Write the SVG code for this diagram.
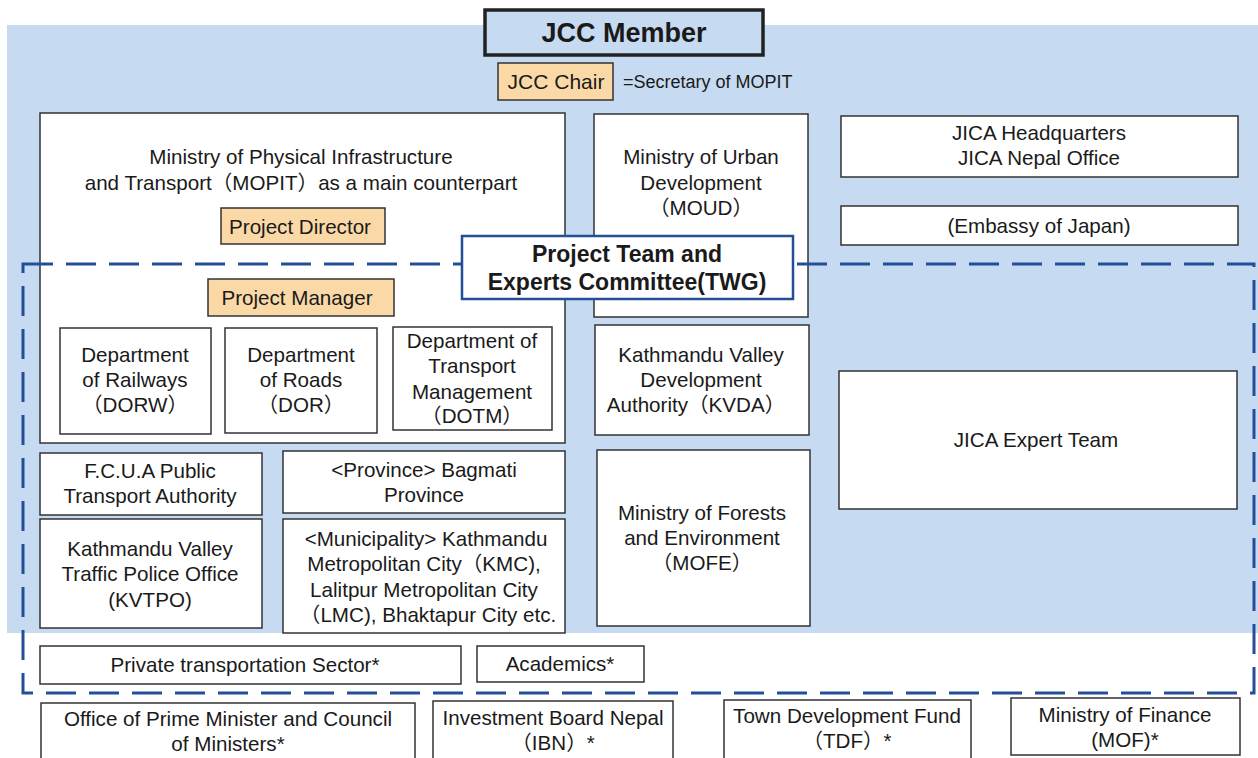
<svg xmlns="http://www.w3.org/2000/svg" width="1258" height="758" viewBox="0 0 1258 758">
  <defs>
    <style>
      text { font-family: "Liberation Sans", Arial, "Noto Sans CJK JP", sans-serif; fill: #1a1a1a; text-anchor: middle; }
      .t { font-size: 20.6px; }
      .box { fill: #ffffff; stroke: #333333; stroke-width: 1.5; }
      .role { fill: #fad9a7; stroke: #333333; stroke-width: 1.5; }
      .bold { font-weight: bold; }
    </style>
  </defs>

  <!-- page background -->
  <rect x="0" y="0" width="1258" height="758" fill="#ffffff"/>
  <!-- JCC member area -->
  <rect x="7" y="25" width="1251" height="608" fill="#c6dbf1"/>

  <!-- title -->
  <g id="jcc-member">
    <rect x="485" y="10" width="278" height="45" fill="#c6dbf1" stroke="#222222" stroke-width="3.5"/>
    <text x="624" y="42" class="bold" style="font-size:27px">JCC Member</text>
  </g>

  <g id="jcc-chair">
    <rect x="498" y="63" width="115" height="37" class="role"/>
    <text x="556" y="89" style="font-size:21px">JCC Chair</text>
    <text x="623" y="88" style="font-size:18px; text-anchor:start">=Secretary of MOPIT</text>
  </g>

  <!-- ministries and offices -->
  <g id="mopit">
    <rect x="40" y="113" width="525" height="330" class="box"/>
    <text x="301" y="164" class="t">Ministry of Physical Infrastructure</text>
    <text x="301" y="190" class="t">and Transport（MOPIT）as a main counterpart</text>
  </g>
  <g id="project-director">
    <rect x="221" y="208" width="164" height="36" class="role"/>
    <text x="300" y="234" class="t">Project Director</text>
  </g>

  <g id="moud">
    <rect x="594" y="114" width="214" height="203" class="box"/>
    <text x="701" y="164" class="t">Ministry of Urban</text>
    <text x="701" y="190" class="t">Development</text>
    <text x="701" y="215" class="t">（MOUD）</text>
  </g>

  <g id="jica-hq">
    <rect x="841" y="116" width="397" height="61" class="box"/>
    <text x="1039" y="140" class="t">JICA Headquarters</text>
    <text x="1039" y="165" class="t">JICA Nepal Office</text>
  </g>

  <g id="embassy">
    <rect x="841" y="206" width="397" height="39" class="box"/>
    <text x="1039" y="233" class="t">(Embassy of Japan)</text>
  </g>

  <g id="project-manager">
    <rect x="208" y="279" width="186" height="37" class="role"/>
    <text x="297" y="305" class="t">Project Manager</text>
  </g>

  <g id="dorw">
    <rect x="60" y="328" width="151" height="106" class="box"/>
    <text x="135" y="362" class="t">Department</text>
    <text x="135" y="387" class="t">of Railways</text>
    <text x="135" y="412" class="t">（DORW）</text>
  </g>
  <g id="dor">
    <rect x="225" y="328" width="152" height="105" class="box"/>
    <text x="301" y="362" class="t">Department</text>
    <text x="301" y="387" class="t">of Roads</text>
    <text x="301" y="412" class="t">（DOR）</text>
  </g>
  <g id="dotm">
    <rect x="393" y="327" width="159" height="103" class="box"/>
    <text x="472" y="348" class="t">Department of</text>
    <text x="472" y="373" class="t">Transport</text>
    <text x="472" y="399" class="t">Management</text>
    <text x="472" y="423" class="t">（DOTM）</text>
  </g>

  <g id="kvda">
    <rect x="595" y="325" width="214" height="110" class="box"/>
    <text x="701" y="362" class="t">Kathmandu Valley</text>
    <text x="701" y="387" class="t">Development</text>
    <text x="696" y="412" class="t">Authority（KVDA）</text>
  </g>

  <g id="jica-expert-team">
    <rect x="839" y="371" width="398" height="138" class="box"/>
    <text x="1036" y="447" class="t">JICA Expert Team</text>
  </g>

  <g id="fcua">
    <rect x="40" y="453" width="222" height="62" class="box"/>
    <text x="150" y="478" class="t">F.C.U.A Public</text>
    <text x="150" y="503" class="t">Transport Authority</text>
  </g>
  <g id="bagmati">
    <rect x="283" y="451" width="282" height="62" class="box"/>
    <text x="424" y="477" class="t">&lt;Province&gt; Bagmati</text>
    <text x="424" y="502" class="t">Province</text>
  </g>

  <g id="kvtpo">
    <rect x="40" y="519" width="222" height="109" class="box"/>
    <text x="150" y="556" class="t">Kathmandu Valley</text>
    <text x="150" y="581" class="t">Traffic Police Office</text>
    <text x="150" y="607" class="t">(KVTPO)</text>
  </g>
  <g id="municipality">
    <rect x="283" y="519" width="282" height="114" class="box"/>
    <text x="426" y="546" class="t">&lt;Municipality&gt; Kathmandu</text>
    <text x="424" y="571" class="t">Metropolitan City（KMC),</text>
    <text x="424" y="597" class="t">Lalitpur Metropolitan City</text>
    <text x="428" y="622" class="t">（LMC), Bhaktapur City etc.</text>
  </g>

  <g id="mofe">
    <rect x="597" y="450" width="213" height="176" class="box"/>
    <text x="702" y="520" class="t">Ministry of Forests</text>
    <text x="702" y="545" class="t">and Environment</text>
    <text x="702" y="570" class="t">（MOFE）</text>
  </g>

  <g id="private-sector">
    <rect x="40" y="646" width="421" height="38" class="box"/>
    <text x="245" y="672" class="t">Private transportation Sector*</text>
  </g>
  <g id="academics">
    <rect x="477" y="646" width="167" height="36" class="box"/>
    <text x="560" y="671" class="t">Academics*</text>
  </g>

  <!-- working group boundary -->
  <g id="connectors">
    <rect x="23" y="264" width="1231" height="429" fill="none" stroke="#234f98" stroke-width="3" stroke-dasharray="30 13"/>
  </g>

  <g id="twg">
    <rect x="462" y="236" width="331" height="63" fill="#ffffff" stroke="#234f98" stroke-width="2.5"/>
    <text x="627" y="262" class="bold" style="font-size:23px">Project Team and</text>
    <text x="627" y="290" class="bold" style="font-size:23px">Experts Committee(TWG)</text>
  </g>

  <!-- other stakeholders -->
  <g id="opmcm">
    <rect x="41" y="703" width="374" height="60" class="box"/>
    <text x="228" y="726" class="t">Office of Prime Minister and Council</text>
    <text x="228" y="751" class="t">of Ministers*</text>
  </g>
  <g id="ibn">
    <rect x="433" y="701" width="240" height="62" class="box"/>
    <text x="553" y="725" class="t">Investment Board Nepal</text>
    <text x="553" y="750" class="t">（IBN）*</text>
  </g>
  <g id="tdf">
    <rect x="724" y="700" width="247" height="63" class="box"/>
    <text x="847" y="723" class="t">Town Development Fund</text>
    <text x="847" y="748" class="t">（TDF）*</text>
  </g>
  <g id="mof">
    <rect x="1011" y="698" width="229" height="57" class="box"/>
    <text x="1125" y="722" class="t">Ministry of Finance</text>
    <text x="1125" y="747" class="t">(MOF)*</text>
  </g>
</svg>
